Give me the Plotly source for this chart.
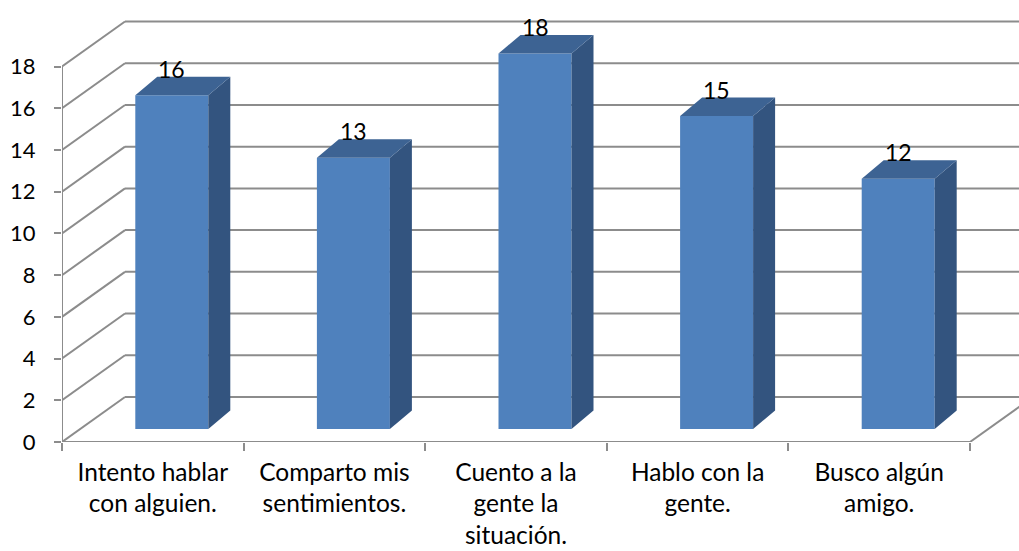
import plotly.graph_objects as go

# Survey responses: number of students per coping strategy
categories = [
    "Intento hablar<br>con alguien.",
    "Comparto mis<br>sentimientos.",
    "Cuento a la<br>gente la<br>situación.",
    "Hablo con la<br>gente.",
    "Busco algún<br>amigo.",
]
values = [16, 13, 18, 15, 12]
y_ticks = [0, 2, 4, 6, 8, 10, 12, 14, 16, 18]

# ---- pseudo-3D geometry (pixel sizes converted to axis units) ----
W, H = 1019, 551
M_L, M_B = 62, 109
PX_X = 181.6            # pixels per category
PX_Y = 20.86            # pixels per value unit
X_MAX = (W - M_L) / PX_X
Y_MAX = (H - M_B) / PX_Y

WALL_DX, WALL_DY = 63 / PX_X, 45 / PX_Y        # floor/back-wall depth
BAR_SHIFT = 19 / PX_X                           # front face pushed back
BAR_LIFT = 13 / PX_Y
BAR_W = 73 / PX_X
BAR_DX, BAR_DY = 22 / PX_X, 18.5 / PX_Y        # bar depth

GRID = "#8c8c8c"
FRONT = "#4F81BD"
TOP = "#3D6393"
SIDE = "#33547F"
FONT = "Lato"

n = len(categories)
centers = [i + 0.5 for i in range(n)]
bar_x = [c + BAR_SHIFT for c in centers]

fig = go.Figure()

# front faces
fig.add_trace(go.Bar(
    x=bar_x, y=values, base=BAR_LIFT, width=BAR_W,
    marker=dict(color=FRONT, line=dict(width=0)),
    hoverinfo="skip", showlegend=False,
))

# side and top faces
for xc, v in zip(bar_x, values):
    x0, x1 = xc - BAR_W / 2, xc + BAR_W / 2
    y0, y1 = BAR_LIFT, BAR_LIFT + v
    fig.add_trace(go.Scatter(
        x=[x1, x1 + BAR_DX, x1 + BAR_DX, x1, x1],
        y=[y0, y0 + BAR_DY, y1 + BAR_DY, y1, y0],
        fill="toself", fillcolor=SIDE, mode="lines",
        line=dict(width=0, color=SIDE), hoverinfo="skip", showlegend=False,
    ))
    fig.add_trace(go.Scatter(
        x=[x0, x0 + BAR_DX, x1 + BAR_DX, x1, x0],
        y=[y1, y1 + BAR_DY, y1 + BAR_DY, y1, y1],
        fill="toself", fillcolor=TOP, mode="lines",
        line=dict(width=0, color=TOP), hoverinfo="skip", showlegend=False,
    ))

# value labels above each bar
for xc, v in zip(bar_x, values):
    fig.add_annotation(
        x=xc, y=BAR_LIFT + v + BAR_DY, text=str(v), showarrow=False,
        xanchor="center", yanchor="middle", yshift=8,
        font=dict(family=FONT, size=23, color="black"),
    )

# walls: oblique side-wall lines and back-wall gridlines
shapes = []
line = dict(color=GRID, width=2)
for v in y_ticks:
    shapes.append(dict(type="line", xref="x", yref="y", layer="below",
                       x0=0, y0=v, x1=WALL_DX, y1=v + WALL_DY, line=line))
    shapes.append(dict(type="line", xref="x", yref="y", layer="below",
                       x0=WALL_DX, y0=v + WALL_DY, x1=X_MAX + 0.1, y1=v + WALL_DY, line=line))
# front floor edge, right floor edge, value axis
shapes.append(dict(type="line", xref="x", yref="y", layer="below",
                   x0=0, y0=0, x1=n, y1=0, line=line))
shapes.append(dict(type="line", xref="x", yref="y", layer="below",
                   x0=n, y0=0, x1=n + WALL_DX, y1=WALL_DY, line=line))
shapes.append(dict(type="line", xref="x", yref="y", layer="below",
                   x0=0, y0=0, x1=0, y1=y_ticks[-1], line=line))

fig.update_layout(
    width=W, height=H,
    margin=dict(l=M_L, r=0, t=0, b=M_B),
    paper_bgcolor="white", plot_bgcolor="white",
    shapes=shapes,
    showlegend=False,
    xaxis=dict(
        range=[0, X_MAX], tickvals=centers, ticktext=categories,
        ticks="", showgrid=False, zeroline=False, showline=False,
        ticklabelstandoff=13, automargin=False,
        tickfont=dict(family=FONT, size=24.5, color="black"),
    ),
    xaxis2=dict(
        overlaying="x", anchor="y", side="bottom", matches="x",
        range=[0, X_MAX], tickvals=list(range(n + 1)), showticklabels=False,
        ticks="outside", ticklen=8, tickwidth=2, tickcolor=GRID,
        showgrid=False, zeroline=False, showline=False, automargin=False,
    ),
    yaxis=dict(
        range=[0, Y_MAX], tickvals=y_ticks,
        ticks="outside", ticklen=7, tickwidth=2, tickcolor=GRID,
        showgrid=False, zeroline=False, showline=False,
        ticklabelstandoff=14, automargin=False,
        tickfont=dict(family=FONT, size=22, color="black"),
    ),
)

# invisible trace so the boundary-tick axis is drawn
fig.add_trace(go.Scatter(x=[0], y=[0], xaxis="x2", mode="markers",
                         marker=dict(opacity=0), hoverinfo="skip", showlegend=False))

fig.write_html("out.html")
